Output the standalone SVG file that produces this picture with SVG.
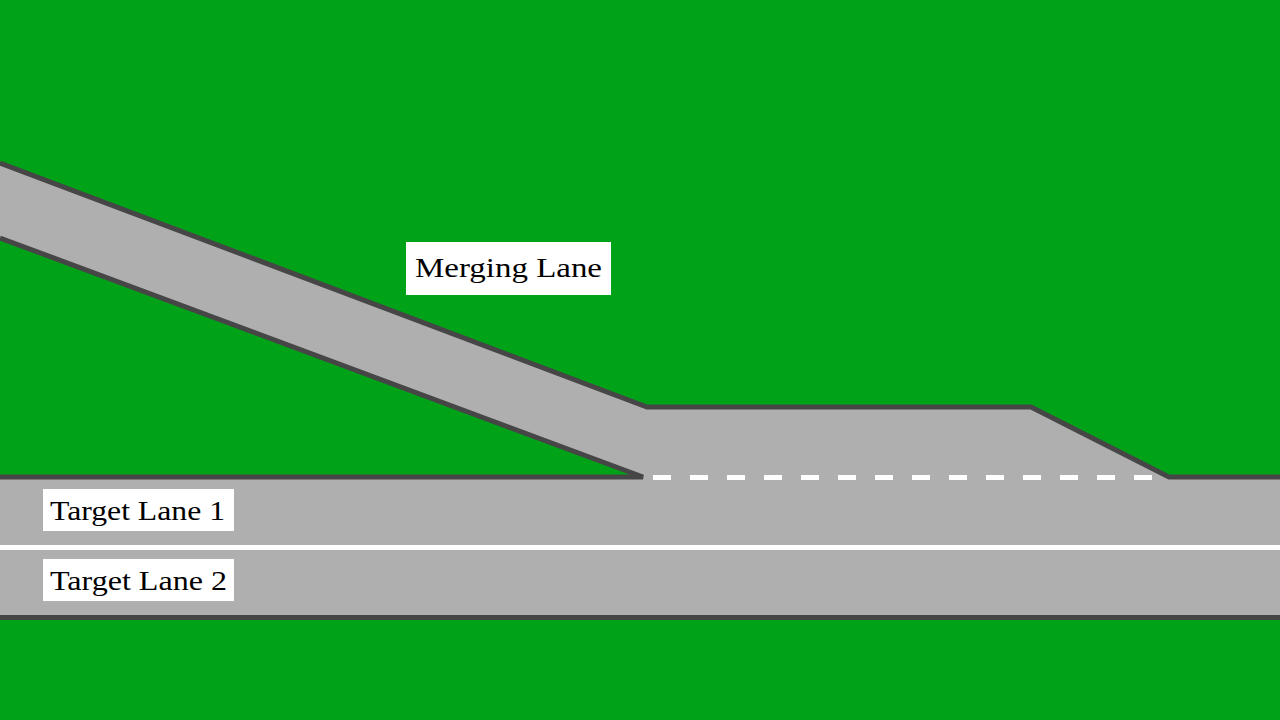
<svg xmlns="http://www.w3.org/2000/svg" width="1280" height="720" viewBox="0 0 1280 720">
<style>
.road{fill:#afafaf;stroke:none}
.edge{stroke:#464646;stroke-width:5;fill:none;stroke-linejoin:miter}
.box{fill:#ffffff}
.lbl{font-family:"Liberation Serif","DejaVu Serif",serif;font-size:28px;fill:#000}
</style>
<rect x="0" y="0" width="1280" height="720" fill="#00a318"/>
<g id="roads">
<rect class="road" x="0" y="477" width="1280" height="141"/>
<polygon class="road" points="0,163 647,407 1031,407 1169,477 643,477 0,238"/>
</g>
<g id="connectors">
<polyline class="edge" points="0,163 647,407 1031,407 1169,477 1280,477"/>
<polyline class="edge" points="0,238 643,477 0,477"/>
<line class="edge" x1="0" y1="617.5" x2="1280" y2="617.5"/>
<line x1="0" y1="547.5" x2="1280" y2="547.5" stroke="#ffffff" stroke-width="5"/>
<line x1="653" y1="477.5" x2="1152" y2="477.5" stroke="#ffffff" stroke-width="5" stroke-dasharray="18 19"/>
</g>
<g id="merging-lane">
<rect class="box" x="406" y="242" width="205" height="53"/>
<text class="lbl" x="415" y="277" textLength="187" lengthAdjust="spacingAndGlyphs">Merging Lane</text>
</g>
<g id="target-lane-1">
<rect class="box" x="43" y="489" width="191" height="42"/>
<text class="lbl" x="50" y="520" textLength="175" lengthAdjust="spacingAndGlyphs">Target Lane 1</text>
</g>
<g id="target-lane-2">
<rect class="box" x="43" y="559" width="191" height="42"/>
<text class="lbl" x="50" y="590" textLength="177" lengthAdjust="spacingAndGlyphs">Target Lane 2</text>
</g>
</svg>
